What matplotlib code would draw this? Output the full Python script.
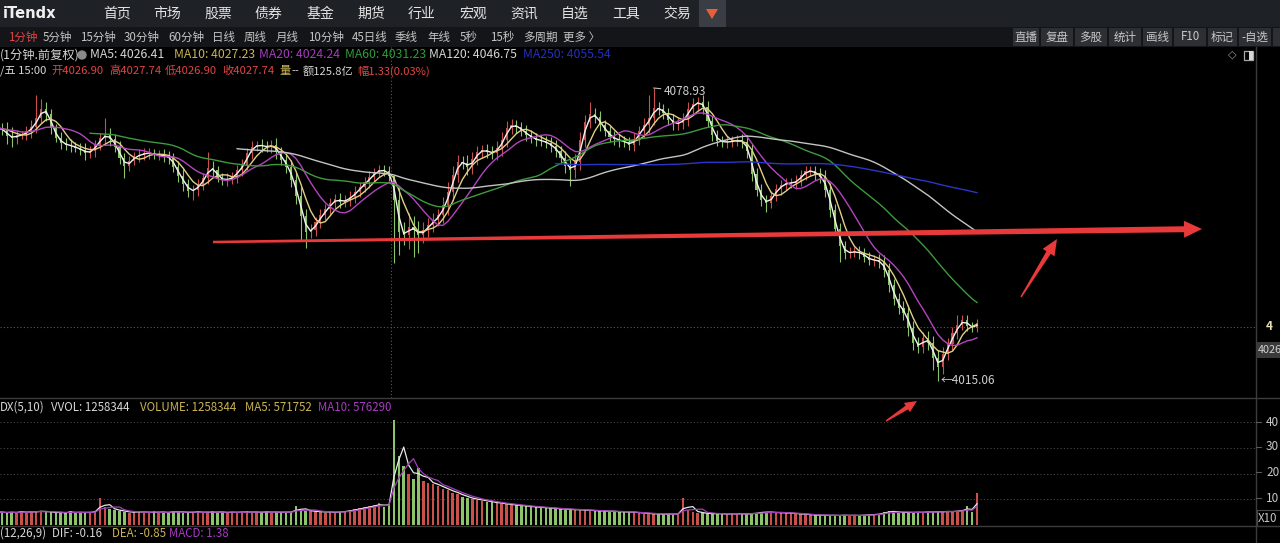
import matplotlib
matplotlib.use('Agg')
import matplotlib.pyplot as plt
import numpy as np
import pandas as pd
from matplotlib.patches import Rectangle, Polygon

plt.rcParams['font.family'] = ['Noto Sans CJK SC', 'DejaVu Sans']

# ---------------- data (each sample = 2 one-minute bars) ----------------
close = [
    4068.68, 4069.77, 4070.43, 4069.34, 4070.21, 4070.86, 4069.77, 4069.12, 4070.21, 4070.64,
    4070.21, 4069.77, 4068.46, 4068.03, 4068.68, 4068.68, 4069.55, 4070.43, 4072.39, 4074.35,
    4073.26, 4070.21, 4068.03, 4066.94, 4066.50, 4066.28, 4065.85, 4065.41, 4064.76, 4065.19,
    4066.50, 4068.03, 4068.68, 4067.81, 4066.07, 4063.67, 4061.92, 4063.01, 4064.10, 4064.32,
    4064.76, 4064.76, 4064.32, 4064.32, 4064.10, 4063.67, 4061.71, 4059.75, 4058.00, 4056.47,
    4056.69, 4057.78, 4059.31, 4061.49, 4061.05, 4059.31, 4058.87, 4059.09, 4059.53, 4061.05,
    4062.14, 4064.76, 4066.07, 4066.50, 4066.28, 4066.07, 4066.50, 4064.98, 4063.23, 4061.71,
    4058.87, 4055.39, 4051.02, 4047.54, 4047.97, 4049.71, 4051.24, 4052.55, 4053.86, 4054.73,
    4054.08, 4054.51, 4055.17, 4056.26, 4057.35, 4058.44, 4059.53, 4060.62, 4061.05, 4060.83,
    4059.75, 4054.51, 4047.54, 4046.88, 4048.62, 4047.97, 4046.88, 4047.97, 4049.06, 4050.15,
    4051.24, 4053.42, 4056.26, 4059.96, 4062.80, 4062.58, 4061.71, 4063.45, 4064.98, 4065.41,
    4064.98, 4064.76, 4065.85, 4067.59, 4070.21, 4070.86, 4070.43, 4069.55, 4068.68, 4068.03,
    4067.59, 4067.37, 4066.94, 4066.28, 4065.19, 4063.67, 4061.92, 4061.05, 4062.80, 4067.59,
    4071.52, 4073.26, 4072.61, 4070.86, 4069.55, 4068.25, 4067.81, 4067.37, 4067.16, 4066.50,
    4067.81, 4069.55, 4070.86, 4072.39, 4074.57, 4074.35, 4073.48, 4071.95, 4071.08, 4071.30,
    4072.17, 4074.35, 4075.44, 4075.87, 4074.79, 4071.73, 4068.68, 4067.37, 4067.16, 4067.16,
    4067.37, 4067.59, 4067.16, 4065.19, 4060.18, 4056.69, 4054.51, 4053.86, 4055.39, 4056.91,
    4057.78, 4058.22, 4058.22, 4058.66, 4059.96, 4060.83, 4060.83, 4060.18, 4059.53, 4056.69,
    4052.33, 4048.19, 4044.48, 4042.96, 4043.18, 4043.18, 4042.96, 4042.09, 4041.43, 4041.43,
    4041.00, 4039.25, 4035.98, 4032.93, 4030.97, 4029.88, 4026.61, 4023.34, 4022.47, 4024.43,
    4023.34, 4020.07, 4018.11, 4020.94, 4023.12, 4025.52, 4027.26, 4028.35, 4027.05, 4026.61,
    4027.74,
]

spread = [
    1.2, 0.8, 1.0, 1.5, 0.9, 1.1, 1.3, 0.8, 1.0, 1.2,
    1.4, 1.0, 1.8, 2.0, 1.2, 0.9, 1.1, 1.5, 1.2, 1.0,
    1.6, 1.2, 0.9, 1.3, 1.0, 1.4, 0.8, 1.1, 1.5, 1.0,
    1.2, 1.0, 1.3, 1.6, 1.1, 1.4, 1.2, 1.0, 0.9, 1.3,
    1.0, 1.2, 0.8, 1.1, 1.4, 1.2, 1.0, 1.3, 1.5, 1.2,
    1.0, 1.4, 1.1, 1.2, 1.5, 0.9, 1.1, 1.3, 1.0, 1.2,
    1.4, 1.1, 1.2, 0.9, 1.3, 1.0, 1.2, 1.5, 1.1, 1.4,
    1.6, 1.8, 2.0, 1.5, 1.3, 1.2, 1.4, 1.0, 1.2, 1.1,
    1.3, 1.0, 1.2, 1.4, 1.1, 1.0, 1.2, 0.9, 1.1, 1.0,
    1.2, 2.5, 2.8, 2.2, 3.0, 2.5, 2.0, 1.8, 1.6, 1.5,
    1.4, 1.8, 2.2, 2.0, 1.6, 1.4, 1.8, 1.5, 1.3, 1.2,
    1.4, 1.2, 1.5, 1.8, 1.6, 1.3, 1.2, 1.1, 1.3, 1.0,
    1.2, 1.1, 1.0, 1.3, 1.4, 1.2, 1.5, 1.6, 1.8, 1.7,
    1.5, 1.4, 1.3, 1.2, 1.0, 1.1, 1.3, 1.2, 1.0, 1.1,
    1.3, 1.2, 1.5, 1.8, 1.6, 1.4, 1.2, 1.1, 1.3, 1.2,
    1.4, 1.5, 1.3, 1.2, 1.6, 1.4, 1.2, 1.0, 1.1, 1.2,
    1.0, 1.1, 1.3, 1.5, 1.6, 1.4, 1.3, 1.2, 1.1, 1.0,
    1.2, 1.1, 1.0, 1.3, 1.2, 1.1, 1.0, 1.2, 1.4, 1.5,
    1.6, 1.4, 1.3, 1.2, 1.1, 1.0, 1.2, 1.1, 1.0, 1.2,
    1.3, 1.5, 1.6, 1.4, 1.3, 1.5, 1.8, 1.6, 1.4, 1.3,
    1.5, 1.6, 1.8, 1.5, 1.4, 1.2, 1.3, 1.1, 1.0, 0.9,
    0.8,
]

high_marks = {18: 4077.4, 19: 4076.5, 32: 4072.4, 53: 4065.0, 91: 4060.0,
              131: 4075.9, 143: 4077.5, 144: 4078.93, 206: 4029.5}
low_marks = {36: 4059.3, 50: 4054.5, 72: 4045.5, 73: 4044.0, 91: 4040.8, 92: 4042.5,
             95: 4042.1, 96: 4043.0, 127: 4057.6, 167: 4051.9, 182: 4041.0,
             201: 4017.5, 202: 4015.06}

volume = [
    5.0, 4.8, 5.2, 4.9, 5.1, 4.7, 5.3, 5.0, 4.8, 5.2,
    4.9, 5.0, 4.6, 5.2, 4.8, 5.5, 4.7, 5.1, 5.6, 5.3,
    4.9, 5.2, 4.5, 5.0, 4.8, 5.3, 4.6, 4.9, 5.1, 4.7,
    5.5, 10.5, 7.0, 6.2, 5.8, 5.4, 5.2, 4.8, 5.0, 5.5,
    4.6, 4.9, 5.3, 4.7, 5.1, 4.8, 5.6, 5.0, 4.7, 5.2,
    4.9, 5.4, 4.6, 5.0, 5.3, 4.8, 5.1, 4.7, 5.2, 4.9,
    5.0, 5.3, 4.8, 5.1, 4.9, 5.4, 4.7, 5.0, 5.2, 4.8,
    5.1, 7.2, 6.0, 5.6, 5.3, 5.0, 5.4, 4.8, 5.1, 4.9,
    5.2, 5.5, 5.8, 6.2, 6.6, 7.0, 7.4, 7.8, 8.4, 7.0,
    8.0, 41.0, 27.0, 23.0, 20.0, 18.0, 22.0, 17.0, 16.5, 16.0,
    15.0, 14.0, 13.5, 12.5, 12.0, 11.0, 10.5, 10.0, 9.8, 9.5,
    9.0, 8.8, 8.5, 8.2, 8.0, 7.8, 7.6, 7.5, 7.2, 7.0,
    6.9, 6.8, 6.6, 6.5, 6.3, 6.2, 6.0, 6.1, 5.8, 5.9,
    5.7, 5.6, 5.5, 5.4, 5.5, 5.2, 5.3, 5.0, 5.1, 4.9,
    5.0, 4.6, 4.4, 4.5, 4.2, 4.3, 4.1, 4.4, 4.2, 4.3,
    10.5, 5.8, 5.2, 4.8, 4.5, 4.3, 4.6, 4.2, 4.4, 4.1,
    4.5, 4.3, 4.4, 4.2, 4.6, 4.8, 5.2, 5.0, 4.9, 4.7,
    4.8, 4.6, 4.5, 4.4, 4.2, 4.0, 3.9, 3.8, 3.7, 3.9,
    3.6, 3.8, 3.7, 3.9, 3.6, 3.8, 3.7, 3.9, 4.0, 4.2,
    4.4, 5.2, 5.6, 5.0, 4.8, 4.9, 5.0, 4.8, 5.1, 4.9,
    5.2, 5.0, 5.3, 5.1, 5.4, 5.2, 5.5, 6.0, 7.2, 5.0,
    12.58,
]

ma_periods = [5, 10, 20, 60, 120, 250]
ma_colors = ['#f2f2f2', '#e2cf86', '#b444c0', '#3e9a3e', '#c4c4c4', '#2a36c8']
bars_per_sample = 2
day_break = 90.5
ref_price = 4026.90
high_val, high_idx = 4078.93, 144
low_val, low_idx = 4015.06, 202

RED = '#c9504b'
GREEN = '#8cc46a'

# ---------------- figure ----------------
W, H = 1280, 543
fig = plt.figure(figsize=(W / 100, H / 100), dpi=100, facecolor='black')

bg = fig.add_axes([0, 0, 1, 1], zorder=0)
bg.set_xlim(0, W); bg.set_ylim(H, 0); bg.axis('off')

ax_p = fig.add_axes([0, (H - 398) / H, 1256 / W, 351 / H], zorder=1)
ax_v = fig.add_axes([0, (H - 525) / H, 1256 / W, 127 / H], zorder=1)
for a in (ax_p, ax_v):
    a.set_facecolor('none')
    a.set_xticks([]); a.set_yticks([])
    for s in a.spines.values():
        s.set_visible(False)

ov = fig.add_axes([0, 0, 1, 1], zorder=5)
ov.set_xlim(0, W); ov.set_ylim(H, 0); ov.axis('off'); ov.patch.set_alpha(0)

c = np.array(close)
n = len(c)
idx = np.arange(n)
o = np.r_[c[0], c[:-1]]
sp = np.array(spread)
hi = np.maximum(o, c) + sp
lo = np.minimum(o, c) - sp
for k, v in high_marks.items():
    hi[k] = v
for k, v in low_marks.items():
    lo[k] = v
up = c >= o
cols = np.where(up, RED, GREEN)

xlim = (10.61, 266.94)
ax_p.set_xlim(*xlim); ax_v.set_xlim(*xlim)
ax_p.set_ylim(4011.35, 4087.87)
ax_v.set_ylim(0, 49.42)

# reference lines
ax_p.axvline(day_break, color='#5a5a5a', ls=(0, (1, 2)), lw=0.8, zorder=1)
ax_p.axhline(ref_price, color='#5a5a5a', ls=(0, (1, 2)), lw=0.8, zorder=1)

# candles
ax_p.vlines(idx, lo, hi, colors=cols, lw=0.8, zorder=2)
body = np.maximum(np.abs(c - o), 0.25)
ax_p.bar(idx, body, bottom=np.minimum(o, c), width=0.42, color=cols, lw=0, zorder=2)

# moving averages
cs = pd.Series(c)
for p, col in zip(ma_periods, ma_colors):
    w = max(2, int(round(p / bars_per_sample)))
    ax_p.plot(idx, cs.rolling(w).mean(), color=col, lw=1.0, zorder=3)

# volume
vol = np.array(volume)
for v in (10, 20, 30, 40):
    ax_v.axhline(v, color='#484848', ls=(0, (1, 2)), lw=0.8, zorder=1)
ax_v.bar(idx, vol, width=0.5, color=cols, lw=0, zorder=2)
vs = pd.Series(vol)
ax_v.plot(idx, vs.rolling(3).mean(), color='#e8e8e8', lw=0.9, zorder=3)
ax_v.plot(idx, vs.rolling(5).mean(), color='#a040b8', lw=0.9, zorder=3)

# ---------------- chrome ----------------
bg.add_patch(Rectangle((0, 0), W, 27, color='#1e2126', lw=0))
bg.add_patch(Rectangle((0, 27), W, 20, color='#131518', lw=0))
bg.add_patch(Rectangle((699, 0), 27, 27, color='#3a3e44', lw=0))
bg.add_patch(Polygon([(706, 9), (718, 9), (712, 19)], closed=True, color='#e8603a', lw=0))

WHITE = '#d6d6d6'
TRED = '#e04545'
YEL = '#cbb453'
PUR = '#a63cc0'
GRN = '#2f9c3a'
BLU = '#2430c0'

ov.text(3, 13.5, 'iTendx', color='#f0f0f0', fontsize=10.5, fontweight='bold',
        ha='left', va='center', family=['DejaVu Sans'])
menu = ['首页', '市场', '股票', '债券', '基金', '期货', '行业', '宏观', '资讯', '自选', '工具', '交易']
menu_x = [117, 167, 218, 268, 320, 371, 422, 473, 524, 575, 626, 677]
for t, x in zip(menu, menu_x):
    ov.text(x, 14, t, color='#e4e4e4', fontsize=10, ha='center', va='center')

periods = [(8, '1分钟'), (43, '5分钟'), (80, '15分钟'), (124, '30分钟'), (168, '60分钟'),
           (212, '日线'), (244, '周线'), (276, '月线'), (308, '10分钟'), (352, '45日线'),
           (395, '季线'), (427, '年线'), (460, '5秒'), (490, '15秒'), (523, '多周期'), (563, '更多 〉')]
for k, (x, t) in enumerate(periods):
    ov.text(x, 37, t, color=TRED if k == 0 else '#c4c4c4', fontsize=8.3, ha='left', va='center')

btn_edges = [1012, 1040, 1074, 1108, 1142, 1173, 1207, 1238, 1272]
btn_txt = ['直播', '复盘', '多股', '统计', '画线', 'F10', '标记', '-自选']
for k, t in enumerate(btn_txt):
    x0, x1 = btn_edges[k], btn_edges[k + 1]
    bg.add_patch(Rectangle((x0 + 1, 28), x1 - x0 - 2, 18, color='#2c2f34', lw=0))
    ov.text((x0 + x1) / 2, 37, t, color='#c8c8c8', fontsize=8.3, ha='center', va='center')
bg.add_patch(Rectangle((1273, 28), 10, 18, color='#2c2f34', lw=0))

row3 = [(0, '(1分钟.前复权)', WHITE), (90, 'MA5: 4026.41', WHITE), (174, 'MA10: 4027.23', YEL),
        (259, 'MA20: 4024.24', PUR), (345, 'MA60: 4031.23', GRN), (429, 'MA120: 4046.75', WHITE),
        (523, 'MA250: 4055.54', BLU)]
for x, t, col in row3:
    ov.text(x, 55, t, color=col, fontsize=8.8, ha='left', va='center')
ov.add_patch(plt.Circle((82, 55), 4, color='#8a8a8a'))

row4 = [(0, '/五 15:00', WHITE), (51, '开4026.90', TRED), (109, '高4027.74', TRED),
        (165, '低4026.90', TRED), (222, '收4027.74', TRED), (279, '量', YEL), (291, '--', WHITE),
        (303, '额125.8亿', WHITE), (357, '幅1.33(0.03%)', TRED)]
for x, t, col in row4:
    ov.text(x, 71, t, color=col, fontsize=8.1, ha='left', va='center')

ov.text(1232, 55, '◇', color='#9a9a9a', fontsize=8, ha='center', va='center', family=['DejaVu Sans'])
ov.add_patch(Rectangle((1244, 50.5), 9, 9, fill=False, ec='#a8a8a8', lw=0.9))
ov.add_patch(Rectangle((1248.5, 50.5), 4.5, 9, color='#d8d8d8', lw=0))

# separators
ov.plot([1256, 1256], [47, 543], color='#3c3c3c', lw=1)
ov.plot([0, W], [398, 398], color='#3c3c3c', lw=1)
ov.plot([0, W], [525.5, 525.5], color='#3c3c3c', lw=1)

# volume header and bottom row
vhead = [(0, 'DX(5,10)', WHITE), (51, 'VVOL: 1258344', WHITE), (140, 'VOLUME: 1258344', YEL),
         (245, 'MA5: 571752', YEL), (318, 'MA10: 576290', PUR)]
for x, t, col in vhead:
    ov.text(x, 407.5, t, color=col, fontsize=8.3, ha='left', va='center')
mrow = [(0, '(12,26,9)', WHITE), (52, 'DIF: -0.16', WHITE), (112, 'DEA: -0.85', YEL),
        (169, 'MACD: 1.38', PUR)]
for x, t, col in mrow:
    ov.text(x, 533.5, t, color=col, fontsize=8.3, ha='left', va='center')

# right axis labels (only the part visible in the cropped screenshot)
for t, y in [('40', 422), ('30', 447), ('20', 472), ('10', 498)]:
    ov.text(1266, y, t, color='#c8c8c8', fontsize=8.5, ha='left', va='center')
    ov.plot([1256, 1261], [y, y], color='#5a5a5a', lw=0.8)
ov.add_patch(Rectangle((1256.5, 510), 30, 16, fill=False, ec='#4a4a4a', lw=0.8))
ov.text(1258, 518, 'X10', color='#c8c8c8', fontsize=8.3, ha='left', va='center')
ov.text(1266, 327, '4', color='#e8e0b0', fontsize=8.5, ha='left', va='center', fontweight='bold')
ov.add_patch(Rectangle((1256.5, 342), 30, 16, color='#3a3a3a', lw=0))
ov.text(1257.5, 350, '4026', color='#d0d0d0', fontsize=7.8, ha='left', va='center')

# high / low labels (anchored at data points)
ax_p.annotate(f'{high_val:.2f}', xy=(high_idx, high_val), xytext=(10, -3), textcoords='offset pixels',
              color='#cfcfcf', fontsize=8.5, va='center', ha='left',
              arrowprops=dict(arrowstyle='-', color='#bdbdbd', lw=0.8, shrinkA=0, shrinkB=0))
ax_p.annotate(f'←{low_val:.2f}', xy=(low_idx, low_val), xytext=(3, 0), textcoords='offset pixels',
              color='#cfcfcf', fontsize=8.5, va='center', ha='left')


def taper_arrow(ax, x0, y0, x1, y1, w0, w1, head_len, head_w, color):
    d = np.array([x1 - x0, y1 - y0], float)
    L = np.hypot(*d)
    u = d / L
    nrm = np.array([-u[1], u[0]])
    p0 = np.array([x0, y0], float)
    pb = p0 + u * (L - head_len)
    pts = [p0 + nrm * w0 / 2, pb + nrm * w1 / 2, pb + nrm * head_w / 2, np.array([x1, y1], float),
           pb - nrm * head_w / 2, pb - nrm * w1 / 2, p0 - nrm * w0 / 2]
    ax.add_patch(Polygon(pts, closed=True, color=color, lw=0, zorder=6))


ARW = '#e8393b'
taper_arrow(ov, 213, 242, 1202, 229, 2.5, 6.0, 18, 17, ARW)
taper_arrow(ov, 1021, 297, 1057, 239, 1.5, 5.0, 16, 14, ARW)
taper_arrow(ov, 886, 421, 917, 401, 1.5, 4.5, 12, 11, ARW)

fig.savefig('out.png', dpi=100, facecolor='black')
